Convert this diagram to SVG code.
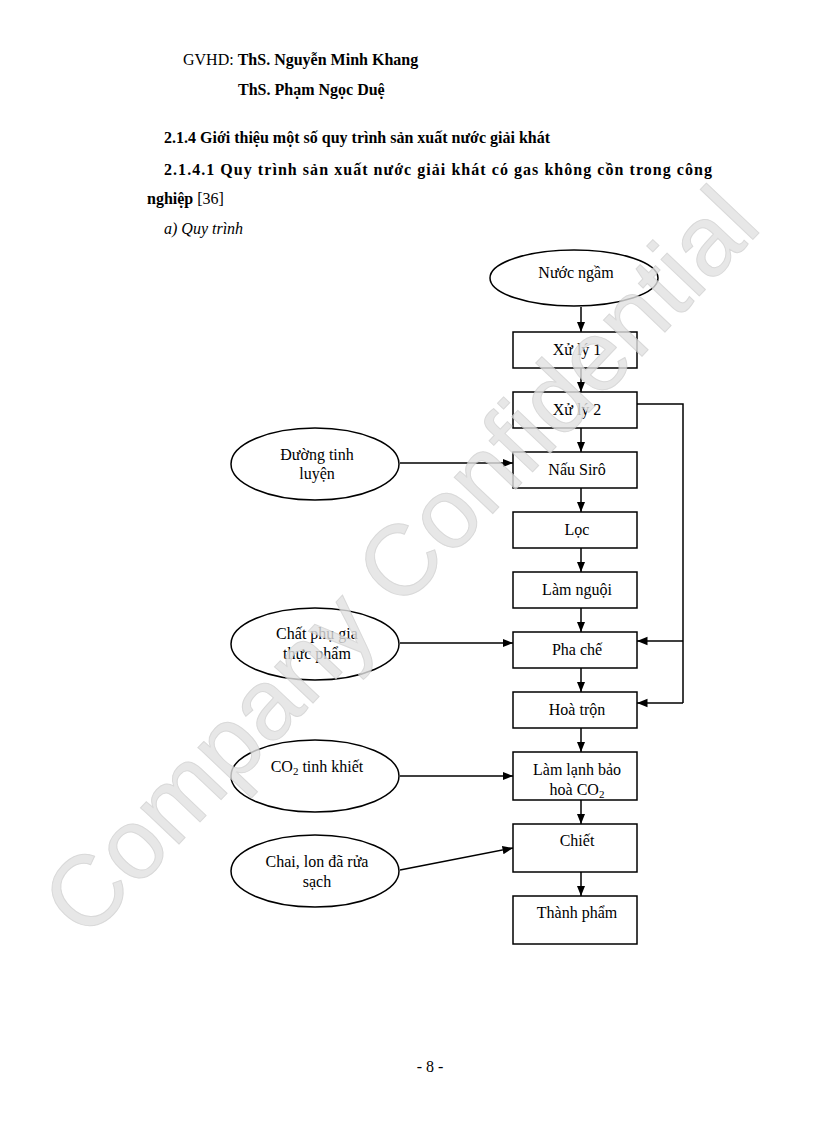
<svg xmlns="http://www.w3.org/2000/svg" width="816" height="1123" viewBox="0 0 816 1123">
<style>
text{font-family:"Liberation Serif",serif;font-size:16px;fill:#000}
.b{font-weight:bold}
.c{text-anchor:middle}
.n{fill:#fff;stroke:#000;stroke-width:1.5}
.e{fill:none;stroke:#000;stroke-width:1.5}
.wm{font-family:"Liberation Sans",sans-serif;font-size:100px;fill:#e2e2e2;stroke:#d0d0d0;stroke-width:1}
</style>
<defs><marker id="a" viewBox="0 0 10 10" refX="10" refY="5" markerWidth="7" markerHeight="7" orient="auto"><path d="M0,1 L10,5 L0,9 z" fill="#000"/></marker></defs>
<rect width="816" height="1123" fill="#fff"/>
<text x="183" y="65">GVHD: <tspan class="b">ThS. Nguyễn Minh Khang</tspan></text>
<text x="238" y="95" class="b">ThS. Phạm Ngọc Duệ</text>
<text x="164" y="143" class="b">2.1.4 Giới thiệu một số quy trình sản xuất nước giải khát</text>
<text x="164" y="175" class="b" textLength="548" lengthAdjust="spacing">2.1.4.1 Quy trình sản xuất nước giải khát có gas không cồn trong công</text>
<text x="147" y="204"><tspan class="b">nghiệp</tspan> [36]</text>
<text x="164" y="234" font-style="italic">a) Quy trình</text>
<g id="connectors">
<line class="e" x1="581" y1="307" x2="581" y2="332" marker-end="url(#a)"/>
<line class="e" x1="581" y1="368" x2="581" y2="392" marker-end="url(#a)"/>
<line class="e" x1="581" y1="428" x2="581" y2="452" marker-end="url(#a)"/>
<line class="e" x1="581" y1="488" x2="581" y2="512" marker-end="url(#a)"/>
<line class="e" x1="581" y1="548" x2="581" y2="572" marker-end="url(#a)"/>
<line class="e" x1="581" y1="608" x2="581" y2="632" marker-end="url(#a)"/>
<line class="e" x1="581" y1="668" x2="581" y2="692" marker-end="url(#a)"/>
<line class="e" x1="581" y1="728" x2="581" y2="752" marker-end="url(#a)"/>
<line class="e" x1="581" y1="800" x2="581" y2="824" marker-end="url(#a)"/>
<line class="e" x1="581" y1="872" x2="581" y2="896" marker-end="url(#a)"/>
<polyline class="e" points="637,404 683,404 683,703"/>
<line class="e" x1="683" y1="641" x2="637" y2="641" marker-end="url(#a)"/>
<line class="e" x1="683" y1="703" x2="637" y2="703" marker-end="url(#a)"/>
<line class="e" x1="400" y1="463" x2="513" y2="463" marker-end="url(#a)"/>
<line class="e" x1="400" y1="643" x2="513" y2="643" marker-end="url(#a)"/>
<line class="e" x1="400" y1="776" x2="513" y2="776" marker-end="url(#a)"/>
<line class="e" x1="400" y1="870" x2="513" y2="848" marker-end="url(#a)"/>
</g>
<g id="n0"><ellipse class="n" cx="574" cy="278" rx="84" ry="28"/><text x="576" y="278" class="c">Nước ngầm</text></g>
<g id="n1"><rect class="n" x="513" y="332" width="124" height="36"/><text x="577" y="355" class="c">Xử lý 1</text></g>
<g id="n2"><rect class="n" x="513" y="392" width="124" height="36"/><text x="577" y="415" class="c">Xử lý 2</text></g>
<g id="n3"><rect class="n" x="513" y="452" width="124" height="36"/><text x="577" y="475" class="c">Nấu Sirô</text></g>
<g id="n4"><rect class="n" x="513" y="512" width="124" height="36"/><text x="577" y="535" class="c">Lọc</text></g>
<g id="n5"><rect class="n" x="513" y="572" width="124" height="36"/><text x="577" y="595" class="c">Làm nguội</text></g>
<g id="n6"><rect class="n" x="513" y="632" width="124" height="36"/><text x="577" y="655" class="c">Pha chế</text></g>
<g id="n7"><rect class="n" x="513" y="692" width="124" height="36"/><text x="577" y="715" class="c">Hoà trộn</text></g>
<g id="n8"><rect class="n" x="513" y="752" width="124" height="48"/><text x="577" y="775" class="c">Làm lạnh bảo</text><text x="577" y="795" class="c">hoà CO<tspan font-size="11" dy="3">2</tspan></text></g>
<g id="n9"><rect class="n" x="513" y="824" width="124" height="48"/><text x="577" y="846" class="c">Chiết</text></g>
<g id="n10"><rect class="n" x="513" y="896" width="124" height="48"/><text x="577" y="918" class="c">Thành phẩm</text></g>
<g id="s1"><ellipse class="n" cx="315" cy="464" rx="84" ry="36"/><text x="317" y="460" class="c">Đường tinh</text><text x="317" y="479" class="c">luyện</text></g>
<g id="s2"><ellipse class="n" cx="315" cy="644" rx="84" ry="36"/><text x="317" y="639" class="c">Chất phụ gia</text><text x="317" y="659" class="c">thực phẩm</text></g>
<g id="s3"><ellipse class="n" cx="315" cy="776" rx="84" ry="36"/><text x="317" y="772" class="c">CO<tspan font-size="11" dy="3">2</tspan><tspan dy="-3"> tinh khiết</tspan></text></g>
<g id="s4"><ellipse class="n" cx="315" cy="871" rx="84" ry="36"/><text x="317" y="867" class="c">Chai, lon đã rửa</text><text x="317" y="887" class="c">sạch</text></g>
<text x="0" y="0" class="wm" text-anchor="middle" transform="translate(425,585) rotate(-46.5)" opacity="0.8">Company Confidential</text>
<text x="430" y="1072" class="c">- 8 -</text>
</svg>
